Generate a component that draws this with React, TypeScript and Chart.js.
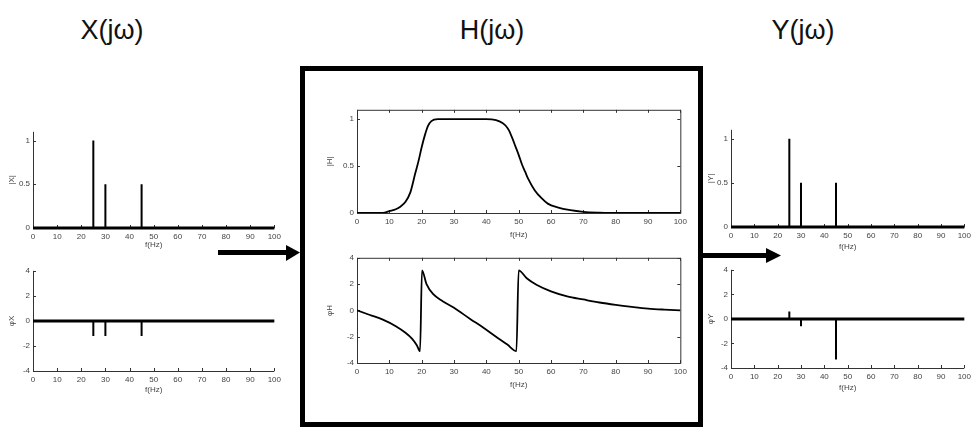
import React, { useEffect, useRef } from 'react';
import { Chart, registerables } from 'chart.js';

Chart.register(...registerables);

const FONT = "'Liberation Sans', Arial, sans-serif";
Chart.defaults.font.family = FONT;

// ---------- data ----------
const freqTicks = [0, 10, 20, 30, 40, 50, 60, 70, 80, 90, 100];
const magTicks = [0, 0.5, 1];
const phaseTicks = [-4, -2, 0, 2, 4];

const stemFreqs = [25, 30, 45];
const xMag = [1, 0.5, 0.5];
const xPhase = [-1.2, -1.2, -1.2];
const yMag = [1, 0.5, 0.5];
const yPhase = [0.6, -0.6, -3.3];

const hMagFreq = [0, 8, 10, 12, 13.5, 15, 16.5, 18, 19, 20, 21, 22, 23, 25, 30, 40, 43, 45, 46, 47, 48, 49, 50, 51, 52, 53, 55, 57, 59, 62, 66, 70, 75, 80, 100];
const hMag = [0, 0, 0.02, 0.04, 0.07, 0.12, 0.22, 0.42, 0.55, 0.7, 0.83, 0.93, 0.98, 1.0, 1.0, 1.0, 0.99, 0.96, 0.93, 0.88, 0.8, 0.71, 0.62, 0.52, 0.44, 0.36, 0.24, 0.16, 0.1, 0.06, 0.03, 0.013, 0.004, 0, 0];

const hPhaseFreq = [0, 4, 8, 12, 15, 17, 18.5, 19.5, 20.1, 21.5, 23.5, 26.5, 30, 35, 39, 43, 46.5, 49.3, 50, 52.5, 55.5, 60, 65, 70, 75, 80, 85, 90, 95, 100];
const hPhase = [0, -0.35, -0.7, -1.2, -1.7, -2.15, -2.65, -3.1, 3.05, 2.0, 1.25, 0.7, 0.2, -0.65, -1.3, -2.0, -2.6, -3.1, 3.05, 2.45, 1.95, 1.45, 1.07, 0.83, 0.6, 0.42, 0.27, 0.14, 0.06, 0];

const titles = ['X(jω)', 'H(jω)', 'Y(jω)'];

// ---------- helpers ----------
const PT = 6;
const PR = 10;

const stemData = (freqs: number[], vals: number[]) =>
  freqs.flatMap((f, i) => [
    { x: f, y: 0 },
    { x: f, y: vals[i] },
    { x: f, y: null as any },
  ]);
const baseline = [
  { x: 0, y: 0 },
  { x: 100, y: 0 },
];
const curve = (fs: number[], vs: number[]) => fs.map((f, i) => ({ x: f, y: vs[i] }));

const stemSets = (freqs: number[], vals: number[]) => [
  { data: baseline, borderColor: '#000', borderWidth: 3, pointRadius: 0, clip: false as any },
  { data: stemData(freqs, vals), borderColor: '#000', borderWidth: 2, pointRadius: 0, spanGaps: false, clip: false as any },
];
const curveSets = (fs: number[], vs: number[]) => [
  { data: curve(fs, vs), borderColor: '#000', borderWidth: 1.8, pointRadius: 0, cubicInterpolationMode: 'monotone' as const },
];

const framePlugin = {
  id: 'frame',
  beforeDatasetsDraw(chart: any, _args: any, opts: any) {
    const { ctx, chartArea, scales } = chart;
    const { left, right, top, bottom } = chartArea;
    const xs = scales.x;
    const ys = scales.y;
    ctx.save();
    ctx.strokeStyle = '#333';
    ctx.lineWidth = 1;
    ctx.beginPath();
    if (opts.boxed) {
      ctx.rect(left + 0.5, top + 0.5, right - left, bottom - top);
    } else {
      ctx.moveTo(left + 0.5, top);
      ctx.lineTo(left + 0.5, bottom + 0.5);
      ctx.lineTo(right, bottom + 0.5);
    }
    xs.ticks.forEach((t: any) => {
      const px = Math.round(xs.getPixelForValue(t.value)) + 0.5;
      ctx.moveTo(px, bottom);
      ctx.lineTo(px, bottom - 3);
      if (opts.boxed) {
        ctx.moveTo(px, top);
        ctx.lineTo(px, top + 3);
      }
    });
    ys.ticks.forEach((t: any) => {
      const py = Math.round(ys.getPixelForValue(t.value)) + 0.5;
      ctx.moveTo(left, py);
      ctx.lineTo(left + 3, py);
      if (opts.boxed) {
        ctx.moveTo(right, py);
        ctx.lineTo(right - 3, py);
      }
    });
    ctx.stroke();
    ctx.restore();
  },
};

type Spec = {
  area: { l: number; t: number; r: number; b: number };
  yMin: number;
  yMax: number;
  yTicks: number[];
  yTitle: string;
  boxed: boolean;
  yw: number;
  xh: number;
  datasets: any[];
};

const specs: Spec[] = [
  { area: { l: 33, t: 130, r: 275, b: 228 }, yMin: 0, yMax: 1.1, yTicks: magTicks, yTitle: '|X|', boxed: false, yw: 26, xh: 22, datasets: stemSets(stemFreqs, xMag) },
  { area: { l: 33, t: 269, r: 275, b: 371 }, yMin: -4, yMax: 4, yTicks: phaseTicks, yTitle: 'φX', boxed: false, yw: 26, xh: 24, datasets: stemSets(stemFreqs, xPhase) },
  { area: { l: 357, t: 108, r: 681, b: 213 }, yMin: 0, yMax: 1.1, yTicks: magTicks, yTitle: '|H|', boxed: true, yw: 32, xh: 27, datasets: curveSets(hMagFreq, hMag) },
  { area: { l: 357, t: 256, r: 681, b: 363 }, yMin: -4, yMax: 4, yTicks: phaseTicks, yTitle: 'φH', boxed: true, yw: 32, xh: 27, datasets: curveSets(hPhaseFreq, hPhase) },
  { area: { l: 731, t: 128, r: 965, b: 227 }, yMin: 0, yMax: 1.1, yTicks: magTicks, yTitle: '|Y|', boxed: false, yw: 25, xh: 25, datasets: stemSets(stemFreqs, yMag) },
  { area: { l: 731, t: 268, r: 965, b: 368 }, yMin: -4, yMax: 4, yTicks: phaseTicks, yTitle: 'φY', boxed: false, yw: 25, xh: 25, datasets: stemSets(stemFreqs, yPhase) },
];

function makeConfig(spec: Spec): any {
  const tickFont = { size: 8, family: FONT };
  const fmt = (v: any) => String(v);
  return {
    type: 'line',
    data: { datasets: spec.datasets },
    options: {
      animation: false,
      responsive: false,
      maintainAspectRatio: false,
      events: [],
      layout: { padding: { top: PT, right: PR, left: 0, bottom: 0 } },
      plugins: { legend: { display: false }, tooltip: { enabled: false }, frame: { boxed: spec.boxed } },
      elements: { point: { radius: 0 } },
      scales: {
        x: {
          type: 'linear',
          min: 0,
          max: 100,
          offset: false,
          grid: { display: false, drawTicks: false },
          border: { display: false },
          afterBuildTicks: (s: any) => {
            s.ticks = freqTicks.map((v) => ({ value: v }));
          },
          afterFit: (s: any) => {
            s.height = spec.xh;
          },
          ticks: { font: tickFont, color: '#444', padding: 4, maxRotation: 0, autoSkip: false, callback: fmt },
          title: { display: true, text: 'f(Hz)', font: tickFont, color: '#444', padding: 0 },
        },
        y: {
          type: 'linear',
          min: spec.yMin,
          max: spec.yMax,
          grid: { display: false, drawTicks: false },
          border: { display: false },
          afterBuildTicks: (s: any) => {
            s.ticks = spec.yTicks.map((v) => ({ value: v }));
          },
          afterFit: (s: any) => {
            s.width = spec.yw;
          },
          ticks: { font: tickFont, color: '#444', padding: 3, autoSkip: false, callback: fmt },
          title: { display: true, text: spec.yTitle, font: tickFont, color: '#444', padding: 0 },
        },
      },
    },
    plugins: [framePlugin],
  };
}

function Plot({ spec }: { spec: Spec }) {
  const ref = useRef<HTMLCanvasElement>(null);
  useEffect(() => {
    const chart = new Chart(ref.current as HTMLCanvasElement, makeConfig(spec));
    return () => chart.destroy();
  }, [spec]);
  const { l, t, r, b } = spec.area;
  const left = l - spec.yw;
  const top = t - PT;
  const width = r - l + spec.yw + PR;
  const height = b - t + PT + spec.xh;
  return (
    <canvas
      ref={ref}
      width={width}
      height={height}
      style={{ position: 'absolute', left, top, width, height }}
    />
  );
}

const titleCenters = [112, 492, 803];

export default function App() {
  return (
    <div style={{ position: 'absolute', left: 0, top: 0, width: 977, height: 432, background: '#fff', overflow: 'hidden' }}>
      {titles.map((t, i) => (
        <div
          key={t}
          style={{
            position: 'absolute',
            left: titleCenters[i] - 60,
            top: 15,
            width: 120,
            textAlign: 'center',
            fontFamily: FONT,
            fontSize: 27,
            lineHeight: '30px',
            color: '#111',
          }}
        >
          {t}
        </div>
      ))}
      <div
        style={{
          position: 'absolute',
          left: 300,
          top: 66,
          width: 403,
          height: 361,
          border: '5px solid #000',
          boxSizing: 'border-box',
        }}
      />
      <svg width={977} height={432} style={{ position: 'absolute', left: 0, top: 0, pointerEvents: 'none' }}>
        <rect x={218} y={250} width={70} height={5} fill="#000" />
        <polygon points="286,245 300,252.5 286,261" fill="#000" />
        <rect x={702} y={253} width={66} height={5} fill="#000" />
        <polygon points="766,248 781,255.5 766,263" fill="#000" />
      </svg>
      {specs.map((s, i) => (
        <Plot key={i} spec={s} />
      ))}
    </div>
  );
}
